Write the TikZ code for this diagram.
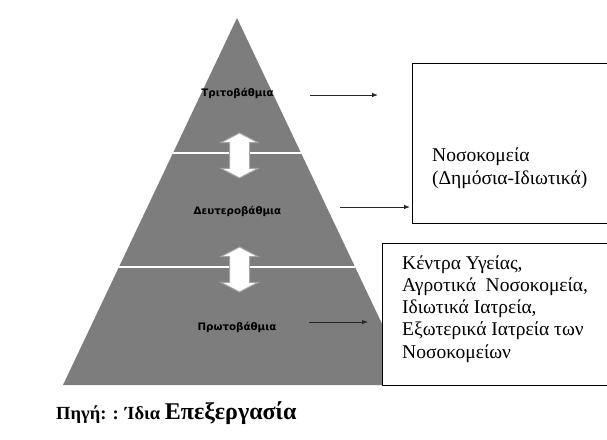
\documentclass[tikz,border=0pt]{standalone}
\usepackage{fontspec}
\setmainfont{Liberation Serif}
\newfontfamily\lblfont{DejaVu Sans}
\usetikzlibrary{shapes.arrows,arrows.meta}
\definecolor{pyr}{RGB}{125,125,125}
\begin{document}
\begin{tikzpicture}[x=1pt,y=-1pt,
  level/.style={font=\lblfont\bfseries\fontsize{10.3}{12}\selectfont, text=black, inner sep=0},
  conn/.style={-{Latex[length=6pt,width=4.5pt]}, line width=1pt, black!85},
  infobox/.style={draw=black, fill=white, line width=1.4pt, anchor=north west, inner sep=0},
  boxtext/.style={align=left, anchor=base west, inner sep=0},
  dblarrow/.style={double arrow, draw=gray!70, fill=white, line width=1pt, minimum height=45pt, inner xsep=0pt, inner ysep=9.5pt, double arrow head extend=8.5pt, double arrow tip angle=125, rotate=90}]
\useasboundingbox (0,0) rectangle (607,439);
\fill[white] (0,0) rectangle (607,439);
% pyramid
\fill[pyr] (237,18) -- (411,385) -- (63,385) -- cycle;
\begin{scope}
  \clip (237,18) -- (411,385) -- (63,385) -- cycle;
  \draw[white, line width=2.5pt] (40,153) -- (440,153);
  \draw[white, line width=2.5pt] (40,267) -- (440,267);
\end{scope}
% double arrows
\node[dblarrow] (da1) at (239.5,155.5) {};
\node[dblarrow] (da2) at (239.5,269.5) {};
% level labels
\node[level] (l3) at (237.5,93) {Τριτοβάθμια};
\node[level] (l2) at (237.5,211) {Δευτεροβάθμια};
\node[level] (l1) at (237,327) {Πρωτοβάθμια};
% boxes
\node[infobox, minimum width=240pt, minimum height=160pt] (b1) at (412,63) {};
\node[infobox, minimum width=270pt, minimum height=142pt] (b2) at (382,243) {};
\node[boxtext, font=\fontsize{19.5}{23}\selectfont] (t1) at (432,184) {Νοσοκομεία\\(Δημόσια-Ιδιωτικά)};
\node[boxtext, font=\fontsize{19.5}{22.2}\selectfont] (t2) at (402,358) {Κέντρα Υγείας,\\Αγροτικά\ \ Νοσοκομεία,\\Ιδιωτικά Ιατρεία,\\Εξωτερικά Ιατρεία των\\Νοσοκομείων};
% connectors
\coordinate (a3s) at (310,95); \coordinate (a3e) at (378,95);
\coordinate (a2s) at (340,207); \coordinate (a2e) at (410,207);
\coordinate (a1s) at (309,322); \coordinate (a1e) at (368,322);
\draw[conn] (a3s) -- (a3e);
\draw[conn] (a2s) -- (a2e);
\draw[conn] (a1s) -- (a1e);
% caption
\node[anchor=base west, inner sep=0, font=\bfseries\fontsize{18.5}{20}\selectfont] (src) at (56,419) {Πηγή: : Ίδια {\fontsize{24}{26}\selectfont Επεξεργασία}};
\end{tikzpicture}
\end{document}
